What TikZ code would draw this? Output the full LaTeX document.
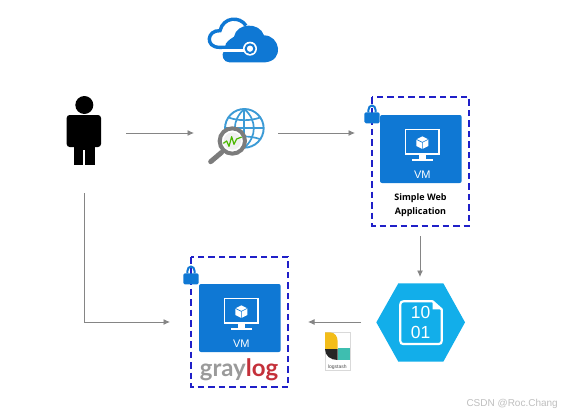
\documentclass[tikz,border=0pt]{standalone}
\usepackage{fontspec}
\setmainfont{Liberation Sans}
\newfontfamily\lato{Lato}
\newfontfamily\opensans{Open Sans}
\usetikzlibrary{arrows.meta}
\definecolor{azure}{HTML}{0F78D4}
\definecolor{hexblue}{HTML}{12AEEA}
\definecolor{navydash}{HTML}{2020C8}
\definecolor{arrowgray}{HTML}{858585}
\definecolor{globeblue}{HTML}{3C9BD6}
\definecolor{lensgray}{HTML}{7C7C7C}
\definecolor{lsyellow}{HTML}{F3BD19}
\definecolor{lsteal}{HTML}{3EBEB0}
\tikzset{
  flow/.style={draw=arrowgray,line width=0.85pt,-{Latex[length=6.5pt,width=6pt]}},
  secure/.style={draw=navydash,line width=1.1pt,dash pattern=on 6.5pt off 4pt},
  vmface/.style={fill=azure,rounded corners=2pt,draw=none},
  zoomed/.style={x=0.33333pt,y=-0.33333pt},
  pics/vmicon/.style={code={
    \path[vmface] (0,0) rectangle (245,204);
    \draw[white,line width=1.5pt] (77,43) rectangle (177,117);
    \fill[white] (118,117) rectangle (137,131);
    \fill[white] (95,132) rectangle (160,137);
    \fill[white] (127,64) -- (145,73) -- (145,93) -- (127,102) -- (109,93) -- (109,73) -- cycle;
    \draw[azure,line width=0.6pt] (109,73) -- (127,82) -- (145,73) (127,82) -- (127,102);
    \node[white,font=\fontsize{11}{11}\selectfont] (#1) at (127,178) {VM};
  }},
  pics/padlock/.style={code={
    \draw[azure,line width=2pt] (-11,-8) -- (-11,-14) .. controls (-11,-33) and (11,-33) .. (11,-14) -- (11,-8);
    \fill[azure,rounded corners=1.5pt] (-23,-8) rectangle (23,25);
  }}
}
\begin{document}
\begin{tikzpicture}[x=1pt,y=-1pt]
\useasboundingbox[fill=white] (0,0) rectangle (561,415);

% Cloud
\begin{scope}[shift={(190,10)},zoomed]
  \draw[azure,line width=3.4pt] (165,112) -- (88,112) .. controls (45,112) and (50,60) .. (90,62) .. controls (100,20) and (150,18) .. (168,47);
  \fill[white] (130,85) rectangle (170,100);
  \fill[azure] (108,100) .. controls (118,88) and (126,84) .. (132,80) .. controls (140,38) and (208,35) .. (222,76) .. controls (270,76) and (285,152) .. (225,157) -- (118,157) .. controls (100,157) and (92,135) .. (102,122) -- cycle;
  \fill[white] (95,118) rectangle (170,127);
  \draw[azure,line width=3.4pt] (165,112) -- (88,112);
  \fill[white] (180,116) circle (21);
  \draw[azure,line width=2pt,fill=white] (180,116) circle (13);
\end{scope}

% Person
\begin{scope}[shift={(50,85)},zoomed]
  \fill[black] (103,60) circle (27);
  \fill[black,rounded corners=3pt] (50,186) -- (50,90) -- (153,90) -- (153,186) -- cycle;
  \fill[black] (71,150) rectangle (135,240);
  \fill[white] (100,196) rectangle (105,240);
\end{scope}

% Globe with lens
\begin{scope}[shift={(50,85)},zoomed]
  \draw[globeblue,line width=1.9pt,fill=white] (583,130) circle (58);
  \draw[globeblue,line width=1.7pt] (583,72) .. controls (545,105) and (545,155) .. (583,188);
  \draw[globeblue,line width=1.7pt] (583,72) .. controls (621,105) and (621,155) .. (583,188);
  \draw[globeblue,line width=1.7pt] (583,72) -- (583,188);
  \draw[globeblue,line width=1.7pt] (525,130) -- (641,130);
  \draw[globeblue,line width=1.7pt] (537,98) .. controls (565,108) and (601,108) .. (629,98);
  \draw[globeblue,line width=1.7pt] (537,162) .. controls (565,152) and (601,152) .. (629,162);
  \draw[lensgray,line width=5pt,line cap=round] (515,202) -- (482,230);
  \draw[lensgray,line width=4pt,fill=white] (547,168) circle (38);
  \fill[gray!12] (547,168) circle (26);
  \draw[green!60!black!70!yellow,line width=1.2pt,line join=round] (520,175) -- (530,168) -- (537,184) -- (545,155) -- (552,178) -- (560,162) -- (575,156);
\end{scope}

% Web VM
\draw[secure] (372,97) rectangle (469,226);
\begin{scope}[shift={(380,115)},zoomed]
  \pic {vmicon=vmweb};
\end{scope}
\begin{scope}[shift={(372,115)},zoomed]
  \pic {padlock};
\end{scope}
\node[font=\opensans\bfseries\fontsize{9}{14}\selectfont,align=center,text=black] (weblabel) at (420.5,205) {Simple Web\\Application};

% Graylog VM
\draw[secure] (191,257) rectangle (288,387);
\begin{scope}[shift={(199,284)},zoomed]
  \pic {vmicon=vmlog};
\end{scope}
\begin{scope}[shift={(191,276)},zoomed]
  \pic {padlock};
\end{scope}
\node[font=\lato\bfseries\fontsize{24}{24}\selectfont,inner sep=0pt,anchor=base] (graylog) at (239,376) {\textcolor[HTML]{9A9A9A}{gray}\textcolor[HTML]{C4303A}{log}};

% Storage hexagon
\begin{scope}[shift={(300,270)},zoomed]
  \fill[hexblue] (229,157) -- (295,40) -- (430,40) -- (495,157) -- (430,275) -- (295,275) -- cycle;
  \draw[white,line width=2.2pt,line join=round] (398,94) -- (310,94) .. controls (304,94) and (301,97) .. (301,103) -- (301,213) .. controls (301,219) and (304,222) .. (310,222) -- (416,222) .. controls (422,222) and (425,219) .. (425,213) -- (425,118) -- cycle;
  \fill[white] (398,94) -- (398,118) -- (425,118) -- cycle;
  \node[white,font=\fontsize{17.5}{20}\selectfont,align=center,inner sep=0pt] (bits) at (362,158) {10\\01};
\end{scope}

% Logstash
\begin{scope}[shift={(300,270)},zoomed]
  \draw[black!15,line width=0.4pt] (75,187) rectangle (152,300);
  \fill[lsyellow] (75,187) -- (90,187) .. controls (105,187) and (113,200) .. (113,215) -- (113,237) -- (75,237) -- cycle;
  \fill[black!85] (75,237) -- (113,237) -- (113,270) .. controls (92,270) and (75,258) .. (75,237) -- cycle;
  \fill[lsteal] (113,235) rectangle (150,270);
  \node[font=\fontsize{5}{5}\selectfont,text=black!70] (logstash) at (112,291) {logstash};
\end{scope}

% Anchors of connectors
\coordinate (c1a) at (126,133);
\coordinate (c1b) at (194,133);
\coordinate (c2a) at (278,133);
\coordinate (c2b) at (355,133);
\coordinate (c3a) at (420,236);
\coordinate (c3b) at (420,277);
\coordinate (c4a) at (361,322);
\coordinate (c4b) at (308,322);
\coordinate (c5a) at (84,193);
\coordinate (c5b) at (170,322);

\draw[flow] (c1a) -- (c1b);
\draw[flow] (c2a) -- (c2b);
\draw[flow] (c3a) -- (c3b);
\draw[flow] (c4a) -- (c4b);
\draw[flow] (c5a) |- (c5b);

\node[text=black!25,font=\fontsize{10}{10}\selectfont,anchor=east,inner sep=0pt] (mark) at (558,404) {CSDN @Roc.Chang};
\end{tikzpicture}
\end{document}
